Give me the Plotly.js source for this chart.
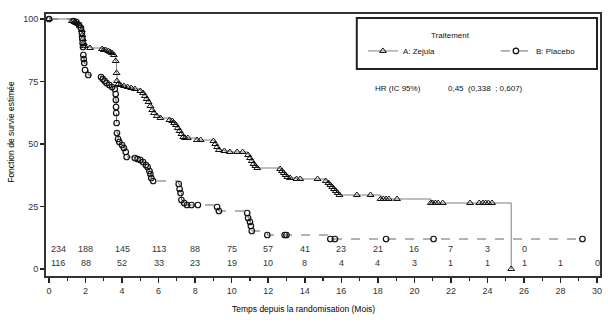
<!DOCTYPE html>
<html><head><meta charset="utf-8">
<script src="https://cdn.plot.ly/plotly-3.0.1.min.js"></script>
<style>html,body{margin:0;padding:0;background:#fff}#c{width:608px;height:325px}</style>
</head><body><div id="c"></div>
<script>
// Zejula (A) Kaplan-Meier points
const timeA = [0,1.25,1.4,1.5,1.6,1.7,1.8,1.83,1.86,1.9,1.95,2.25,2.9,3.0,3.1,3.25,3.35,3.45,3.55,3.65,3.7,3.72,3.8,3.9,4.1,4.3,4.5,4.7,5.0,5.15,5.25,5.35,5.45,5.55,5.65,5.75,5.9,6.1,6.6,6.75,6.85,6.95,7.05,7.15,7.25,7.35,7.45,7.6,8.1,8.3,9.0,9.1,9.2,9.3,9.6,9.9,10.3,10.6,10.9,11.0,11.1,11.2,11.3,11.4,12.65,12.75,12.85,12.95,13.05,13.2,13.55,13.75,14.7,15.15,15.3,15.4,15.5,15.6,15.7,15.8,15.9,16.85,17.6,18.15,18.3,18.45,18.6,19.05,20.9,21.0,21.15,21.3,21.55,23.05,23.55,23.75,23.9,24.05,24.25,25.3];
const survA = [100,99.2,98.8,98.4,98.0,97.2,95.6,93.6,92,90.4,89.2,88.4,88.0,87.6,87.6,87.2,86.8,86.4,85.6,83.2,78.4,75.2,74.0,73.6,73.2,72.8,72.4,72.0,71.2,70.4,69.2,68.0,66.8,65.2,63.6,62.4,61.2,60.4,59.6,59.2,58.4,57.6,56.4,55.2,54.0,52.8,52.4,52.4,51.6,51.6,51.2,50.0,48.8,47.6,47.2,46.8,46.8,46.8,45.6,44.4,43.2,42.0,41.2,40.4,40.0,39.2,38.4,37.6,36.8,36.4,36.0,36.0,36.0,35.2,34.4,33.6,32.8,32.0,31.2,30.4,29.6,29.6,29.6,28.0,28.0,28.0,28.0,28.0,26.4,26.4,26.4,26.4,26.4,26.4,26.4,26.4,26.4,26.4,26.4,0];
// Placebo (B) Kaplan-Meier points
const timeB = [0,1.35,1.5,1.65,1.75,1.8,1.82,1.84,1.86,1.88,1.9,1.93,1.97,2.15,2.85,2.95,3.05,3.15,3.3,3.45,3.6,3.65,3.66,3.67,3.68,3.7,3.72,3.78,3.85,4.0,4.1,4.2,4.25,4.7,4.85,5.0,5.15,5.3,5.4,5.5,5.55,5.6,5.7,7.1,7.15,7.2,7.25,7.4,7.55,7.8,8.15,9.2,9.3,10.85,10.9,11.0,11.05,11.1,11.95,12.9,13.0,15.4,15.65,18.45,21.05,29.2];
const survB = [100,99.2,98.8,97.6,96.4,94.4,92.4,90.4,88.8,85.6,84.0,82.4,79.6,77.6,76.8,76.0,75.2,74.4,73.6,72.8,72.0,70.0,67.6,64.8,62.4,58.4,54.4,52.0,50.8,49.6,48.4,46.8,44.8,44.4,44.0,43.6,42.8,41.6,40.8,39.2,38.0,36.4,35.2,34.0,32.0,30.4,27.6,26.4,25.6,25.6,25.6,24.8,23.2,22.4,20.4,18.8,17.2,15.2,13.6,13.6,13.6,12.0,12.0,12.0,12.0,12.0];
// Number at risk
const riskTimes = [0,2,4,6,8,10,12,14,16,18,20,22,24,26,28,30];
const riskA = [234,188,145,113,88,75,57,41,23,21,16,7,3,0];
const riskB = [116,88,52,33,23,19,10,8,4,4,3,1,1,1,1,0];
const nameA = 'A: Zejula', nameB = 'B: Placebo';
const legendTitle = 'Traitement';
const hrLabel = 'HR (IC 95%)', hrValue = '0,45  (0,338  ; 0,607)';
const xTitle = 'Temps depuis la randomisation (Mois)';
const yTitle = 'Fonction de survie estimée';

const F = 'Liberation Sans, Arial, sans-serif';
const traces = [
  {x: timeA, y: survA, type:'scatter', mode:'lines+markers', name:nameA,
   line:{shape:'hv', color:'#7f7f7f', width:1},
   marker:{symbol:'triangle-up-open', size:6, color:'#111', line:{width:1}}, cliponaxis:false},
  {x: timeB, y: survB, type:'scatter', mode:'lines+markers', name:nameB,
   line:{shape:'hv', color:'#666', width:1, dash:'dash'},
   marker:{symbol:'circle-open', size:5.5, color:'#111', line:{width:1.2}}, cliponaxis:false}
];
const ann = [];
riskA.forEach((v,i)=>ann.push({x:riskTimes[i], y:8, xref:'x', yref:'y', text:String(v), showarrow:false,
  xanchor: i===0?'left':'center', font:{family:F,size:9,color:'#333'}}));
riskB.forEach((v,i)=>ann.push({x:riskTimes[i], y:2.4, xref:'x', yref:'y', text:String(v), showarrow:false,
  xanchor: i===0?'left':'center', font:{family:F,size:9,color:'#333'}}));
ann.push({x:-0.93, y:8, xref:'x', yref:'y', text:'A', showarrow:false, font:{family:F,size:9,color:'#333'}});
ann.push({x:-0.93, y:2.4, xref:'x', yref:'y', text:'B', showarrow:false, font:{family:F,size:9,color:'#333'}});
ann.push({x:0.68, y:0.74, xref:'paper', yref:'paper', text:hrLabel, showarrow:false, font:{family:F,size:8,color:'#111'}});
ann.push({x:0.865, y:0.74, xref:'paper', yref:'paper', text:hrValue, showarrow:false, font:{family:F,size:8,color:'#111'}});
ann.push({x:0.769, y:0.943, xref:'paper', yref:'paper', text:legendTitle, showarrow:false, font:{family:F,size:8,color:'#111'}});
ann.push({x:0.464, y:-0.126, xref:'paper', yref:'paper', text:xTitle, showarrow:false, yanchor:'middle', font:{family:F,size:8.5,color:'#000'}});
ann.push({x:-0.076, y:0.55, xref:'paper', yref:'paper', text:yTitle, textangle:-90, showarrow:false, font:{family:F,size:8.5,color:'#000'}});

const layout = {
  width:608, height:325, margin:{l:46, r:8, t:14, b:49, autoexpand:false},
  paper_bgcolor:'#fff', plot_bgcolor:'#fff', showlegend:true,
  xaxis:{range:[-0.164,30.16], tickvals:[0,2,4,6,8,10,12,14,16,18,20,22,24,26,28,30], ticks:'outside', ticklen:5, tickwidth:1.5,
    minor:{dtick:1, tick0:0, ticks:'outside', ticklen:3, tickwidth:1.2, tickcolor:'#222'},
    tickcolor:'#222', showline:true, linecolor:'#333', linewidth:2, mirror:true, showgrid:false, zeroline:false,
    tickfont:{family:F,size:9,color:'#333'}},
  yaxis:{range:[-2.8,102], tickvals:[0,25,50,75,100], ticks:'outside', ticklen:4, tickwidth:1.5, tickcolor:'#222',
    showline:true, linecolor:'#333', linewidth:2, mirror:true, showgrid:false, zeroline:false,
    tickfont:{family:F,size:9,color:'#333'}},
  legend:{orientation:'h', x:0.572, y:0.859, xanchor:'left', yanchor:'middle', bgcolor:'rgba(0,0,0,0)',
    borderwidth:0, entrywidth:88, itemwidth:30,
    font:{family:F,size:8,color:'#111'}},
  shapes:[{type:'rect', xref:'paper', yref:'paper', x0:0.561, x1:0.9946, y0:0.790, y1:0.985,
    line:{color:'#222', width:2}, fillcolor:'rgba(0,0,0,0)', layer:'below'}],
  annotations: ann
};
Plotly.newPlot('c', traces, layout, {displayModeBar:false, staticPlot:true});
</script></body></html>
